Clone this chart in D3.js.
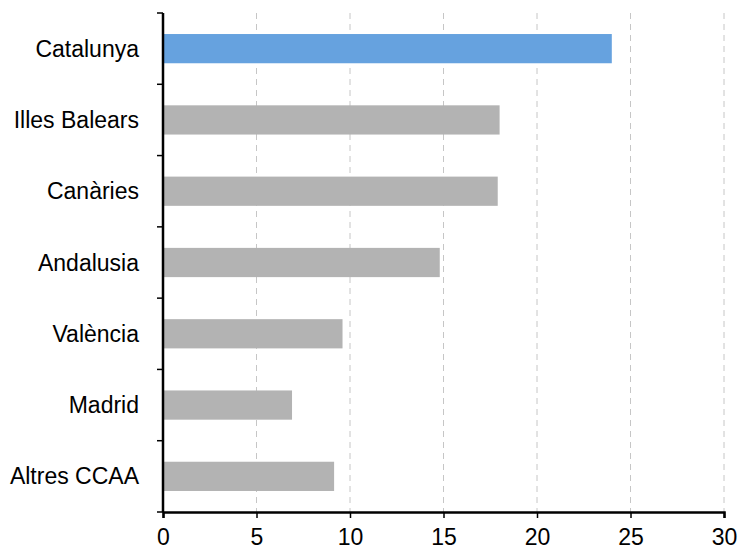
<!DOCTYPE html>
<html>
<head>
<meta charset="utf-8">
<script src="https://cdn.jsdelivr.net/npm/d3@7"></script>
<style>
  html, body { margin: 0; padding: 0; background: #fff; }
  svg { display: block; font-family: "Liberation Sans", Arial, sans-serif; }
</style>
</head>
<body>
<svg id="chart" width="742" height="550"></svg>
<script>
// Regions and their values
const categories = ["Catalunya", "Illes Balears", "Canàries", "Andalusia", "València", "Madrid", "Altres CCAA"];
const values = [24.0, 18.0, 17.9, 14.8, 9.6, 6.9, 9.15];
const xTicks = [0, 5, 10, 15, 20, 25, 30];
const highlight = "Catalunya";

const svg = d3.select("#chart");
const margin = { left: 163, right: 18, top: 13, bottom: 38 };
const width = 742, height = 550;
const fontSize = 23;

const x = d3.scaleLinear().domain([0, 30]).range([margin.left, width - margin.right]);
const y = d3.scaleBand().domain(categories).range([margin.top, height - margin.bottom])
  .paddingInner(0.59).paddingOuter(0.295);

// dashed vertical gridlines
svg.append("g").selectAll("line")
  .data(xTicks.filter(d => d > 0))
  .join("line")
  .attr("x1", d => x(d)).attr("x2", d => x(d))
  .attr("y1", margin.top).attr("y2", height - margin.bottom)
  .attr("stroke", "#c6c6c6").attr("stroke-width", 1)
  .attr("stroke-dasharray", "6,5");

// bars
svg.append("g").selectAll("rect")
  .data(categories.map((c, i) => ({ c, v: values[i] })))
  .join("rect")
  .attr("x", x(0))
  .attr("y", d => y(d.c))
  .attr("width", d => x(d.v) - x(0))
  .attr("height", y.bandwidth())
  .attr("fill", d => d.c === highlight ? "#66A2DF" : "#B3B3B3");

// x axis
const xAxis = svg.append("g")
  .attr("transform", `translate(0,${height - margin.bottom})`)
  .call(d3.axisBottom(x).tickValues(xTicks).tickSize(6).tickPadding(11).tickFormat(d3.format("d")));
xAxis.select(".domain").attr("stroke", "#000").attr("stroke-width", 2.5);
xAxis.selectAll(".tick line").attr("stroke", "#000").attr("stroke-width", 1.5);
xAxis.selectAll(".tick text").attr("font-size", fontSize).attr("fill", "#000")
  .attr("font-family", "'Liberation Sans', Arial, sans-serif");

// y axis: line with ticks at category boundaries
const yG = svg.append("g");
yG.append("line")
  .attr("x1", x(0)).attr("x2", x(0))
  .attr("y1", margin.top).attr("y2", height - margin.bottom)
  .attr("stroke", "#000").attr("stroke-width", 2.5);
const boundaries = d3.range(categories.length + 1).map(i => margin.top + i * (height - margin.top - margin.bottom) / categories.length);
yG.selectAll("line.tk")
  .data(boundaries)
  .join("line").attr("class", "tk")
  .attr("x1", x(0) - 6).attr("x2", x(0))
  .attr("y1", d => d).attr("y2", d => d)
  .attr("stroke", "#000").attr("stroke-width", 1.5);

// category labels
yG.selectAll("text")
  .data(categories)
  .join("text")
  .attr("x", 139)
  .attr("y", d => y(d) + y.bandwidth() / 2)
  .attr("dy", "0.35em")
  .attr("text-anchor", "end")
  .attr("font-size", fontSize)
  .attr("fill", "#000")
  .text(d => d);
</script>
</body>
</html>
